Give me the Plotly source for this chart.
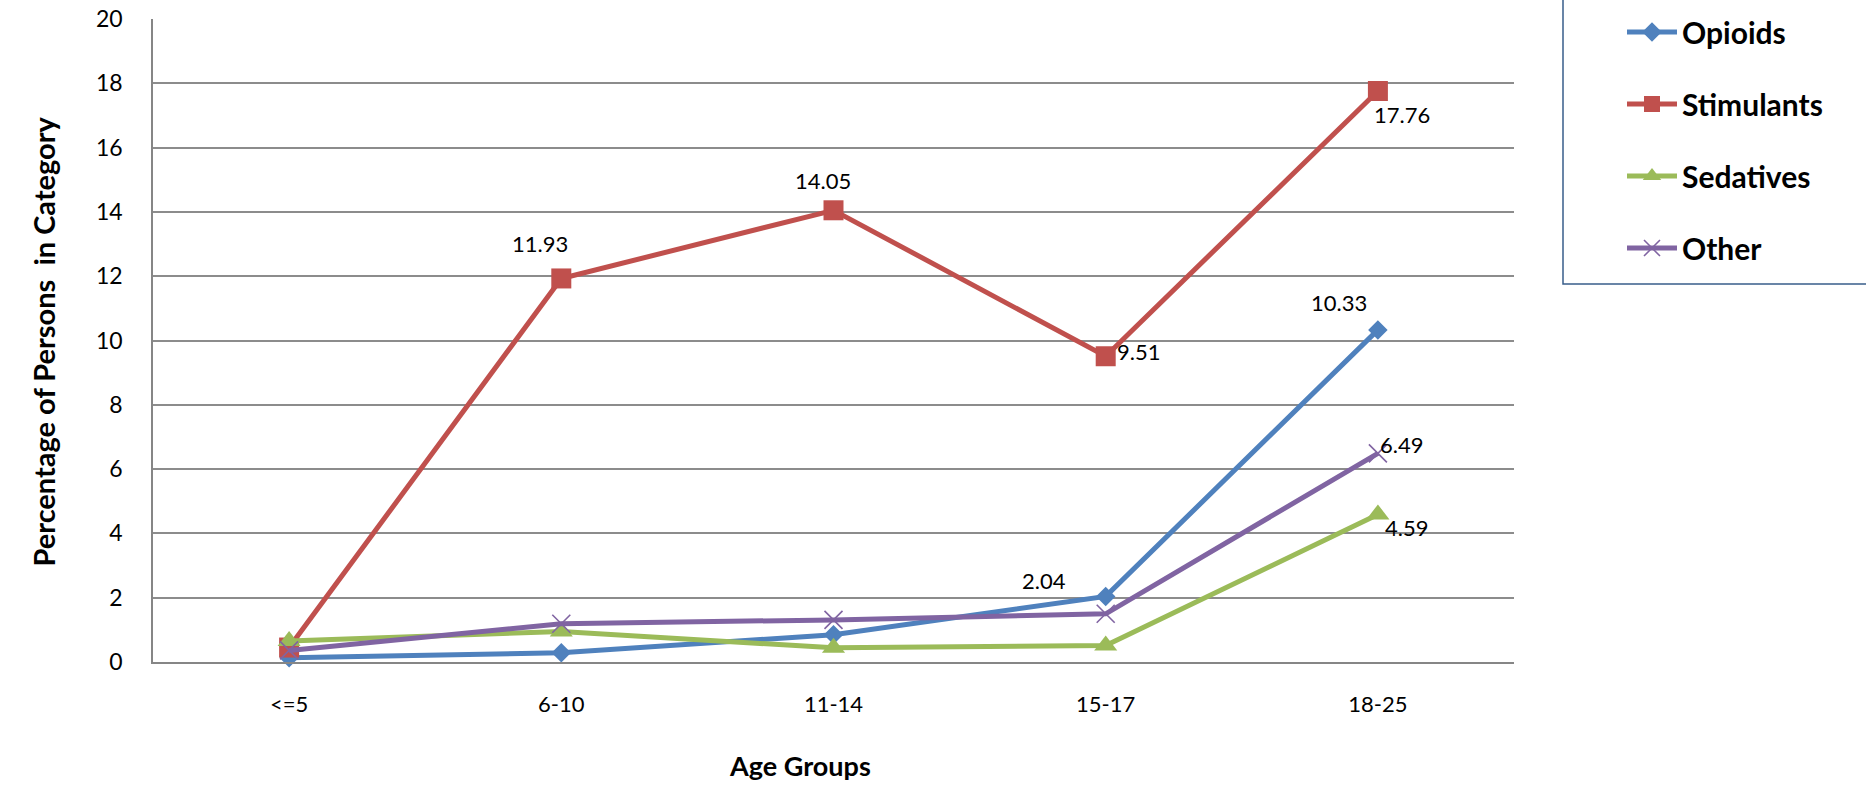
import plotly.graph_objects as go

# Age groups and percentage of persons in each drug category
age_groups = ["<=5", "6-10", "11-14", "15-17", "18-25"]
opioids = [0.13, 0.29, 0.85, 2.04, 10.33]
stimulants = [0.45, 11.93, 14.05, 9.51, 17.76]
sedatives = [0.65, 0.95, 0.44, 0.51, 4.59]
other = [0.36, 1.19, 1.31, 1.50, 6.49]
y_ticks = [0, 2, 4, 6, 8, 10, 12, 14, 16, 18, 20]

W, H = 1866, 799
L, R, T, B = 153, 352, 19, 137
PW, PH = W - L - R, H - T - B

LABEL_FONT = "Lato"

series = [
    ("Opioids", opioids, "#4F81BD", dict(symbol="diamond", size=15)),
    ("Stimulants", stimulants, "#C0504D", dict(symbol="square", size=20)),
    ("Sedatives", sedatives, "#9BBB59", dict(symbol="triangle-up", size=20)),
    ("Other", other, "#8064A2", dict(symbol="x-thin-open", size=18,
                                      line=dict(width=1.6, color="#8064A2"))),
]

fig = go.Figure()
for name, vals, color, marker in series:
    m = dict(color=color, **marker)
    fig.add_trace(go.Scatter(
        x=age_groups, y=vals, name=name, mode="lines+markers",
        line=dict(color=color, width=5), marker=m,
        legendgroup=name, cliponaxis=False,
    ))

# value labels shown on selected points: (series index, point index, xshift, yshift)
value_labels = [
    (1, 1, -21, 35), (1, 2, -11, 30), (1, 3, 33, 5), (1, 4, 24, -23),
    (0, 3, -62, 16), (0, 4, -39, 27),
    (3, 4, 24, 9), (2, 4, 29, -13),
]
for si, pi, dx, dy in value_labels:
    v = series[si][1][pi]
    fig.add_annotation(
        x=age_groups[pi], y=v, xref="x", yref="y", text=f"{v:.2f}",
        showarrow=False, xshift=dx, yshift=dy,
        font=dict(family=LABEL_FONT, size=22, color="#000000"),
    )

# axis titles
fig.add_annotation(
    x=(24 - L) / PW, y=(H - B - 342) / PH, xref="paper", yref="paper",
    text="<b>Percentage of Persons  in Category</b>", textangle=-90,
    showarrow=False, font=dict(family=LABEL_FONT, size=29, color="#000000"),
)
fig.add_annotation(
    x=(800 - L) / PW, y=(H - B - 784) / PH, xref="paper", yref="paper",
    text="<b>Age Groups</b>", showarrow=False,
    font=dict(family=LABEL_FONT, size=27, color="#000000"),
)

# legend frame
fig.add_shape(
    type="rect", xref="paper", yref="paper",
    x0=(1563 - L) / PW, x1=(1890 - L) / PW,
    y0=(H - B - 284) / PH, y1=(H - B + 10) / PH,
    line=dict(color="#385D8A", width=1.5), fillcolor="rgba(0,0,0,0)",
    layer="above",
)

fig.update_layout(
    width=W, height=H,
    margin=dict(l=L, r=R, t=T, b=B, autoexpand=False),
    paper_bgcolor="white", plot_bgcolor="white",
    showlegend=True,
    legend=dict(
        x=(1622 - L) / PW, y=(H - B - 6) / PH, xanchor="left", yanchor="top",
        xref="paper", yref="paper",
        bgcolor="rgba(0,0,0,0)", borderwidth=0,
        font=dict(family=LABEL_FONT, size=30, color="#000000", weight="bold"),
        traceorder="grouped", tracegroupgap=30, itemwidth=50,
    ),
    xaxis=dict(
        type="category", range=[-0.5, 4.5],
        showgrid=False, showline=True, linecolor="#868686", linewidth=1.5,
        ticks="", ticklabelstandoff=22,
        tickfont=dict(family=LABEL_FONT, size=22, color="#000000"),
        zeroline=False,
    ),
    yaxis=dict(
        range=[0, 20], tickvals=y_ticks,
        showgrid=True, gridcolor="#8C8C8C", gridwidth=1.5,
        showline=True, linecolor="#868686", linewidth=1.5,
        ticks="", ticklabelstandoff=24, zeroline=False,
        tickfont=dict(family=LABEL_FONT, size=23, color="#000000"),
    ),
)

fig.write_html("out.html")
